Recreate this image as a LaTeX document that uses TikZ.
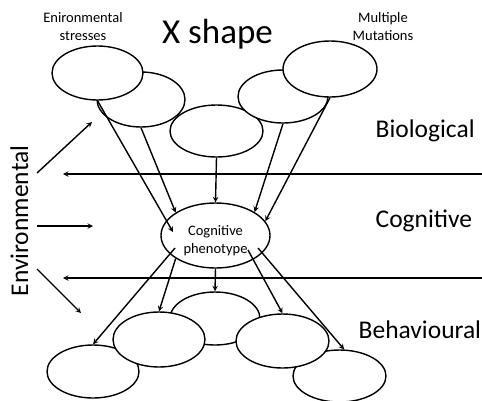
\documentclass[tikz,border=0pt]{standalone}
\usepackage{fontspec}
\setmainfont{Carlito}
\usetikzlibrary{shapes.geometric,calc}

\begin{document}
\begin{tikzpicture}[x=1pt, y=-1pt, line width=1.4pt,
  blob/.style={draw, ellipse, fill=white, inner sep=0pt, minimum width=92pt, minimum height=54pt},
  arr/.style={->, >=stealth},
  small/.style={font=\fontsize{14.5}{18}\selectfont, align=center, inner sep=0pt},
  level/.style={font=\fontsize{25.5}{30}\selectfont, inner sep=0pt, anchor=base west}]
  \useasboundingbox (0,0) rectangle (482,400);
  % top row: biological causes
  \node[blob, minimum width=93pt, minimum height=52pt] (e3) at (216.5,131) {};
  \node[blob, minimum width=88pt, minimum height=55pt] (e2) at (141,99.5) {};
  \node[blob, minimum width=91pt] (e1) at (97.5,73) {};
  \node[blob, minimum width=90pt, minimum height=53pt] (e4) at (283,96.5) {};
  \node[blob, minimum width=94pt, minimum height=56pt] (e5) at (330,69) {};
  % middle
  \node[blob, minimum width=109pt, minimum height=65pt,
    label={[small, yshift=-5pt]center:{Cognitive\\phenotype}}] (cog) at (215.5,235.5) {};
  % bottom row: behaviours
  \node[blob, minimum width=90pt, minimum height=53pt] (b3) at (215,318.5) {};
  \node[blob, minimum height=53pt] (b1) at (93,371.5) {};
  \node[blob, minimum width=93pt, minimum height=52pt] (b5) at (339.5,376) {};
  \node[blob, minimum height=55pt] (b2) at (159,339.5) {};
  \node[blob, minimum width=93pt] (b4) at (282.5,341) {};
  % labels
  \node[small] (stress) at (83,27) {Enironmental\\stresses};
  \node[small] (mut) at (383,27) {Multiple\\Mutations};
  \node[font=\fontsize{35}{40}\selectfont, inner sep=0pt, anchor=base] (title) at (217.5,43) {X shape};
  \node[level] (bio) at (375,137) {Biological};
  \node[level] (cogn) at (375,227) {Cognitive};
  \node[level] (beh) at (358,338) {Behavioural};
  \node[level, rotate=90] (env) at (28,297) {Environmental};
  % free ends
  \coordinate (envA) at (37,173);  \coordinate (envAt) at (92,122);
  \coordinate (envB) at (37,226);  \coordinate (envBt) at (93,226);
  \coordinate (envC) at (37,269);  \coordinate (envCt) at (81,313);
  \coordinate (lineA) at (482,174); \coordinate (lineAt) at (63,174);
  \coordinate (lineB) at (482,278); \coordinate (lineBt) at (63,278);
  % arrows into the phenotype
  \draw[arr] (e1.south) -- ($(cog)+(-42.5,-3.5)$);
  \draw[arr] (e2.south) -- (cog.150);
  \draw[arr] (e3.south) -- (cog.north);
  \draw[arr] (e4.south) -- (cog.31);
  \draw[arr] (e5.south) -- (cog.16);
  % arrows out of the phenotype
  \draw[arr] ($(cog)+(-40.5,12.5)$) -- (b1.north);
  \draw[arr] (cog.210) -- (b2.north);
  \draw[arr] (cog.south) -- (b3.north);
  \draw[arr] ($(cog)+(32.5,14.5)$) -- (b4.north);
  \draw[arr] ($(cog)+(42.5,12.5)$) -- (b5.80);
  % environmental influence and level borders
  \draw[arr] (envA) -- (envAt);
  \draw[arr] (envB) -- (envBt);
  \draw[arr] (envC) -- (envCt);
  \draw[arr] (lineA) -- (lineAt);
  \draw[arr] (lineB) -- (lineBt);
\end{tikzpicture}
\end{document}
